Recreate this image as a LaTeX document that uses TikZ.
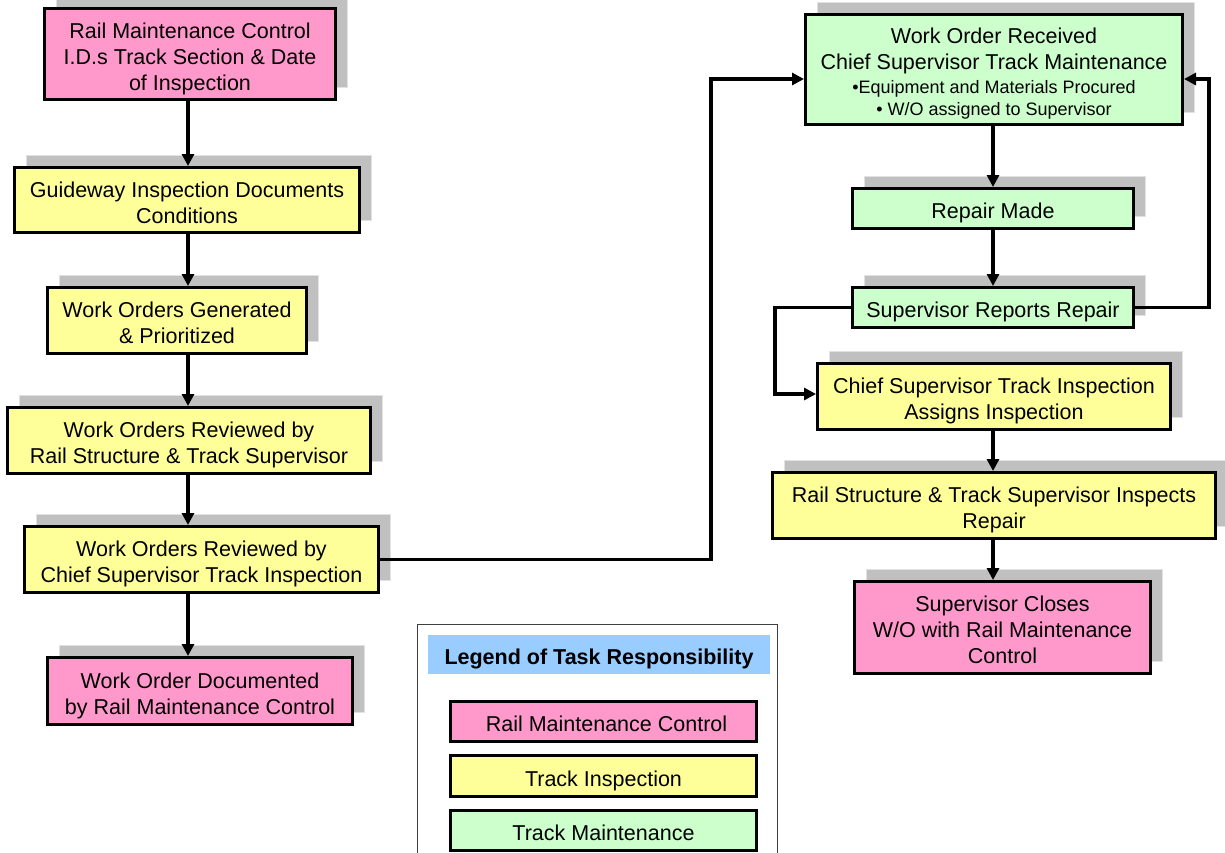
\documentclass[tikz,border=0pt]{standalone}
\usepackage{fontspec}
\setmainfont{Liberation Sans}
\usetikzlibrary{arrows.meta,shadows}

\definecolor{rmcpink}{HTML}{FF99CC}
\definecolor{inspyellow}{HTML}{FFFF99}
\definecolor{maintgreen}{HTML}{CCFFCC}
\definecolor{legendblue}{HTML}{99CCFF}
\definecolor{shadowgray}{HTML}{C0C0C0}
\definecolor{shadowedge}{HTML}{E2E2E2}

\newcommand{\smalltxt}{\fontsize{18}{22}\selectfont}
% centred block of lines, sitting a little below the box centre
\newcommand{\lowtext}[1]{\vbox{\kern9.6pt\hbox{\begin{tabular}{@{}c@{}}#1\end{tabular}}}}

\tikzset{
  box/.style={draw=black, line width=3pt, inner sep=0pt,
    font=\fontsize{21.5}{26}\selectfont},
  shadowed/.style={general shadow={shadow xshift=12pt, shadow yshift=12pt,
    fill=shadowgray, draw=shadowedge, line width=0.8pt}},
  flowbox/.style={box, shadowed},
  sz/.style 2 args={minimum width=#1, minimum height=#2},
  arr/.style={draw=black, line width=3.4pt, -{Triangle[length=12pt,width=12pt]}},
}

\begin{document}
\begin{tikzpicture}[x=1pt, y=-1pt]
\useasboundingbox (0,0) rectangle (1225,852);

% left column
\node[flowbox, fill=rmcpink, sz={291}{91}] (rmc) at (190,54)
  {\lowtext{Rail Maintenance Control\\I.D.s Track Section \& Date\\of Inspection}};
\node[flowbox, fill=inspyellow, sz={345}{65}] (guide) at (187,200)
  {\lowtext{Guideway Inspection Documents\\Conditions}};
\node[flowbox, fill=inspyellow, sz={259}{66}] (gen) at (177,320.5)
  {\lowtext{Work Orders Generated\\\& Prioritized}};
\node[flowbox, fill=inspyellow, sz={363}{66}] (rev1) at (189,440.5)
  {\lowtext{Work Orders Reviewed by\\Rail Structure \& Track Supervisor}};
\node[flowbox, fill=inspyellow, sz={354}{66}] (rev2) at (201.5,559.5)
  {\lowtext{Work Orders Reviewed by\\Chief Supervisor Track Inspection}};
\node[flowbox, fill=rmcpink, sz={305}{67}] (doc) at (200,691)
  {\lowtext{Work Order Documented\\by Rail Maintenance Control}};

% right column
\node[flowbox, fill=maintgreen, sz={377}{110}] (wor) at (994,69.5)
  {\lowtext{Work Order Received\\Chief Supervisor Track Maintenance\\[-2pt]
   {\smalltxt \textbullet Equipment and Materials Procured}\\[-4pt]
   {\smalltxt \textbullet\ W/O assigned to Supervisor}}};
\node[flowbox, fill=maintgreen, sz={281}{40}] (rm) at (993,208.5)
  {\lowtext{Repair Made}};
\node[flowbox, fill=maintgreen, sz={281}{40}] (srr) at (993,307.5)
  {\lowtext{Supervisor Reports Repair}};
\node[flowbox, fill=inspyellow, sz={353}{66}] (csti) at (994,396.5)
  {\lowtext{Chief Supervisor Track Inspection\\Assigns Inspection}};
\node[flowbox, fill=inspyellow, sz={443}{66}] (rsts) at (994,505.5)
  {\lowtext{Rail Structure \& Track Supervisor Inspects\\Repair}};
\node[flowbox, fill=rmcpink, sz={296}{92}] (close) at (1002.5,627.5)
  {\lowtext{Supervisor Closes\\W/O with Rail Maintenance\\Control}};

% connectors
\coordinate (lc) at (188,0);
\coordinate (rc) at (993,0);
\draw[arr] (rmc.south -| lc) -- (guide.north -| lc);
\draw[arr] (guide.south -| lc) -- (gen.north -| lc);
\draw[arr] (gen.south -| lc) -- (rev1.north -| lc);
\draw[arr] (rev1.south -| lc) -- (rev2.north -| lc);
\draw[arr] (rev2.south -| lc) -- (doc.north -| lc);

\draw[arr] (wor.south -| rc) -- (rm.north -| rc);
\draw[arr] (rm.south -| rc) -- (srr.north -| rc);
\draw[arr] (csti.south -| rc) -- (rsts.north -| rc);
\draw[arr] (rsts.south -| rc) -- (close.north -| rc);

\coordinate (mx) at (711,79);
\draw[arr] (rev2.east) -| (mx) -- (mx -| wor.west);
\coordinate (rx) at (1209,79);
\draw[arr] (srr.east) -| (rx) -- (rx -| wor.east);
\coordinate (sx) at (775,394);
\draw[arr] (srr.west) -| (sx) -- (sx -| csti.west);

% legend
\node[draw=black!75, line width=1pt, inner sep=0pt, minimum width=360, minimum height=250,
  anchor=north west] (legend) at (417,624) {};
\node[fill=legendblue, inner sep=0pt, minimum width=342, minimum height=39,
  font=\fontsize{21.5}{26}\selectfont\bfseries] (legtitle) at (599,654.5)
  {\lowtext{Legend of Task Responsibility}};
\node[box, fill=rmcpink, sz={306}{40}] (legrmc) at (603.5,721.5)
  {\lowtext{\hspace*{6pt}Rail Maintenance Control}};
\node[box, fill=inspyellow, sz={306}{41}] (legins) at (603.5,776)
  {\lowtext{Track Inspection}};
\node[box, fill=maintgreen, sz={306}{40}] (legmnt) at (603.5,830)
  {\lowtext{Track Maintenance}};
\end{tikzpicture}
\end{document}
